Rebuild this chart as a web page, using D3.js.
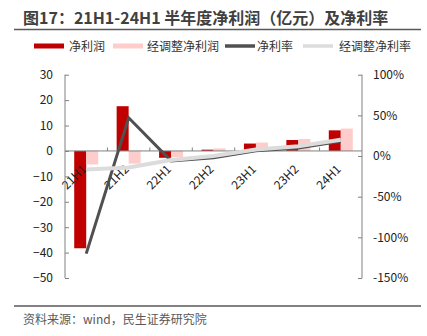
<!DOCTYPE html>
<html><head><meta charset="utf-8">
<script src="https://cdn.jsdelivr.net/npm/d3@7"></script>
<style>body{margin:0;background:#fff;}svg{display:block;font-family:"Noto Sans CJK SC","Noto Sans",sans-serif;}</style>
</head><body>
<svg id="c" width="427" height="336"></svg>
<script>
const categories = ["21H1","21H2","22H1","22H2","23H1","23H2","24H1"];
const netProfit = [-38.3, 17.6, -2.7, 0.5, 2.9, 4.3, 8.1];
const adjNetProfit = [-5.3, -5.0, -2.4, 1.0, 3.3, 4.7, 8.8];
const netMargin = [-120, 47, -6, -2, 6.5, 10, 18];
const adjNetMargin = [-16.5, -14, -5, 0, 8, 12, 20];
const leftTicks = [30, 20, 10, 0, -10, -20, -30, -40, -50];
const rightTicks = [100, 50, 0, -50, -100, -150];
const title = "图17：21H1-24H1 半年度净利润（亿元）及净利率";
const source = "资料来源：wind，民生证券研究院";
const legendNames = ["净利润","经调整净利润","净利率","经调整净利率"];

const C_RED = "#c00000", C_PINK = "#ffcccc", C_DARK = "#505050", C_LIGHT = "#dcdcdc";
const svg = d3.select("#c");
const L = 65, R = 362, T = 74.7, B = 278;

const x = d3.scaleBand().domain(categories).range([L, R]).padding(0);
const yL = d3.scaleLinear().domain([-50, 30]).range([B, T]);
const yR = d3.scaleLinear().domain([-150, 100]).range([B, T]);

// title
svg.append("text").attr("x", 23).attr("y", 24).attr("font-size", 16).attr("font-weight", "bold")
  .attr("fill", "#404040").text(title);
svg.append("line").attr("x1", 14).attr("x2", 421).attr("y1", 29.5).attr("y2", 29.5)
  .attr("stroke", "#595959").attr("stroke-width", 1.5);

// legend
const lg = svg.append("g").attr("font-size", 12).attr("fill", "#333");
const lgItems = [
  {x: 34, type: "rect", color: C_RED, tx: 69},
  {x: 113, type: "rect", color: C_PINK, tx: 147},
  {x: 225, type: "line", color: C_DARK, tx: 257},
  {x: 303, type: "line", color: C_LIGHT, tx: 339}
];
lgItems.forEach((d, i) => {
  if (d.type === "rect") lg.append("rect").attr("x", d.x).attr("y", 43.5).attr("width", 30).attr("height", 5).attr("fill", d.color);
  else lg.append("line").attr("x1", d.x).attr("x2", d.x + 30).attr("y1", 46).attr("y2", 46).attr("stroke", d.color).attr("stroke-width", 3.5);
  lg.append("text").attr("x", d.tx).attr("y", 50.5).text(legendNames[i]);
});

// bars
const bw = 12;
const gB = svg.append("g");
categories.forEach((c, i) => {
  const cx = x(c) + x.bandwidth() / 2;
  const v1 = netProfit[i], v2 = adjNetProfit[i];
  gB.append("rect").attr("x", cx - bw).attr("width", bw)
    .attr("y", yL(Math.max(0, v1))).attr("height", Math.abs(yL(v1) - yL(0))).attr("fill", C_RED);
  gB.append("rect").attr("x", cx).attr("width", bw)
    .attr("y", yL(Math.max(0, v2))).attr("height", Math.abs(yL(v2) - yL(0))).attr("fill", C_PINK);
});

// x axis at zero
const axC = "#808080";
const y0 = yL(0);
svg.append("line").attr("x1", L).attr("x2", R).attr("y1", y0).attr("y2", y0).attr("stroke", axC);
categories.forEach((c, i) => {
  if (i > 0) svg.append("line").attr("x1", x(c)).attr("x2", x(c)).attr("y1", y0).attr("y2", y0 - 3.5).attr("stroke", axC);
});
categories.forEach(c => {
  const cx = x(c) + x.bandwidth() / 2;
  svg.append("text").attr("transform", `translate(${cx + 1},${y0 + 19}) rotate(-45)`)
    .attr("text-anchor", "end").attr("font-size", 12).attr("fill", "#222").text(c);
});

// left axis
const aL = d3.axisLeft(yL).tickValues(leftTicks).tickSize(-4).tickPadding(12).tickFormat(d3.format("d"));
const gL = svg.append("g").attr("transform", `translate(${L},0)`).call(aL);
gL.select(".domain").attr("stroke", axC).attr("d", `M0,${T}V${B}`);
gL.selectAll(".tick line").attr("stroke", axC);
gL.selectAll("text").attr("font-size", 12).attr("fill", "#222").attr("font-family", "'Noto Sans CJK SC','Noto Sans',sans-serif");

// right axis
const aR = d3.axisRight(yR).tickValues(rightTicks).tickSize(-4).tickPadding(11).tickFormat(d => d + "%");
const gR = svg.append("g").attr("transform", `translate(${R},0)`).call(aR);
gR.select(".domain").attr("stroke", axC).attr("d", `M0,${T}V${B}`);
gR.selectAll(".tick line").attr("stroke", axC);
gR.selectAll("text").attr("font-size", 12).attr("fill", "#222").attr("font-family", "'Noto Sans CJK SC','Noto Sans',sans-serif");

// lines
const line = d3.line().x((d, i) => x(categories[i]) + x.bandwidth() / 2).y(d => yR(d));
svg.append("path").attr("d", line(netMargin)).attr("fill", "none").attr("stroke", C_DARK).attr("stroke-width", 3);
svg.append("path").attr("d", line(adjNetMargin)).attr("fill", "none").attr("stroke", C_LIGHT).attr("stroke-width", 4);

// footer
svg.append("line").attr("x1", 14).attr("x2", 421).attr("y1", 306).attr("y2", 306)
  .attr("stroke", "#595959").attr("stroke-width", 1.5);
svg.append("text").attr("x", 23).attr("y", 324).attr("font-size", 12).attr("fill", "#595959").text(source);
</script>
</body></html>
